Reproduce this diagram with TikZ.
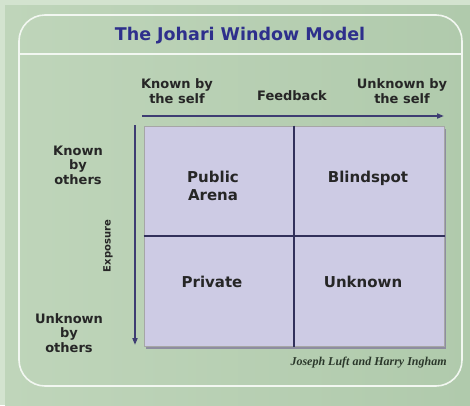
\documentclass[tikz,border=0pt]{standalone}
\usepackage{fontspec}
\setmainfont{DejaVu Sans}
\newfontfamily\signfont{Liberation Serif}
\usetikzlibrary{arrows.meta}

\definecolor{bgpale}{HTML}{D3E3CF}
\definecolor{bgleft}{HTML}{BFD5BA}
\definecolor{bgright}{HTML}{B0CAAC}
\definecolor{titleblue}{HTML}{2E2F8C}
\definecolor{arrowblue}{HTML}{3E3D72}
\definecolor{windowfill}{HTML}{CDCBE4}
\definecolor{panefill}{HTML}{8E8DA0}
\definecolor{inktext}{HTML}{262626}
\definecolor{signink}{HTML}{2B382B}

\begin{document}
\begin{tikzpicture}[x=1pt, y=-1pt, thick,
    lbl/.style = {text=inktext, align=center, font=\bfseries\fontsize{13}{14.5}\selectfont},
    quad/.style = {text=inktext, align=center, font=\bfseries\fontsize{15}{18}\selectfont},
    axis/.style = {arrowblue, line width=2pt, -{Triangle[length=7pt, width=5pt]}}]
    \useasboundingbox (0,0) rectangle (470,405);

    % background and panel
    \fill[bgpale] (0,0) rectangle (470,405);
    \shade[left color=bgleft, right color=bgright] (5,5) rectangle (470,405);
    \draw[white!80!bgleft, line width=1.6pt, rounded corners=26] (19,15) rectangle (462,386);
    \draw[white!80!bgleft, line width=1.6pt] (19,54) -- (462,54);

    \node[text=titleblue, font=\bfseries\fontsize{17.5}{20}\selectfont] (title) at (240,36) {The Johari Window Model};

    % the window
    \fill[panefill] (146,129) rectangle (446,349);
    \node[draw=gray!70, line width=1pt, fill=windowfill, minimum width=300, minimum height=220, inner sep=0pt] (grid) at (294,236) {};
    \draw[arrowblue!80!black, line width=1.6pt] (grid.north) -- (grid.south);
    \draw[arrowblue!80!black, line width=1.6pt] (grid.west) -- (grid.east);

    \node[quad] (public) at (213,186) {Public\\Arena};
    \node[quad] (blind) at (368,178) {Blindspot};
    \node[quad] (private) at (212,282) {Private};
    \node[quad] (unknown) at (363,282) {Unknown};

    % axes
    \coordinate (fbstart) at (142,116);
    \coordinate (fbend) at (444,116);
    \coordinate (exstart) at (135,125);
    \coordinate (exend) at (135,345);
    \draw[axis] (fbstart) -- (fbend);
    \draw[axis] (exstart) -- (exend);

    \node[lbl] (kself) at (177,91) {Known by\\the self};
    \node[lbl] (fb) at (292,96) {Feedback};
    \node[lbl] (uself) at (402,91) {Unknown by\\the self};
    \node[lbl] (kothers) at (78,165) {Known\\by\\others};
    \node[lbl] (uothers) at (69,333) {Unknown\\by\\others};
    \node[text=inktext, rotate=90, font=\bfseries\fontsize{10}{12}\selectfont] (expo) at (108,246) {Exposure};

    \node[text=signink, anchor=base east, inner sep=0pt, font=\signfont\itshape\bfseries\fontsize{12}{14}\selectfont] (credit) at (447,365) {Joseph Luft and Harry Ingham};
\end{tikzpicture}
\end{document}
